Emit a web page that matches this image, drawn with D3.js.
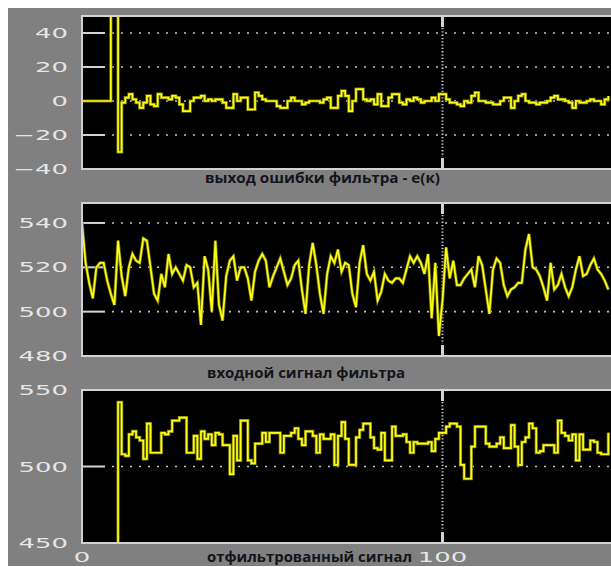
<!DOCTYPE html>
<html>
<head>
<meta charset="utf-8">
<script src="https://cdn.jsdelivr.net/npm/d3@7"></script>
<style>
  body { margin: 0; background: #ffffff; }
  svg { display: block; }
</style>
</head>
<body>
<svg id="scope"></svg>
<script>
// Sample axis
var xTicks = [0, 100];

// Tick values of each panel
var errTicks = [-40, -20, 0, 20, 40];
var inTicks = [480, 500, 520, 540];
var outTicks = [450, 500, 550];

// Panel captions
var titles = ["выход ошибки фильтра - е(к)", "входной сигнал фильтра", "отфильтрованный сигнал"];

// e(k) - filter error output (stepped)
var errorSignal = [
    0, 0, 0, 0, 0, 0, 0, 0, 200, 200,
    -30, -1, 2, 4, 1, -1, -4, -1, 3, -2,
    -3, 4, 2, 2, 1, 3, 2, -2, -6, -6,
    0, 2, 2, 3, 0, 1, 0, 1, 1, -1,
    -4, -4, 4, 0, 2, 2, -5, -5, 5, 3,
    1, 0, 0, 0, -3, -4, -4, 0, 2, 0,
    0, -2, -1, 0, 0, 0, -1, 1, 2, -4,
    -4, 3, 6, 3, -6, 0, 7, 7, 1, 0,
    1, -2, 4, -3, -3, 2, 4, 4, -1, -2,
    1, 0, 2, 1, -1, 0, 0, 2, 0, 4,
    4, 1, -1, -1, -2, -3, 0, -1, 3, 5,
    0, 0, -1, -1, -2, -2, 0, 2, 2, -4,
    0, 3, 4, 0, -1, -1, -2, -1, -1, 0,
    2, 3, 1, 1, 0, -1, -4, 0, -1, -1,
    0, 1, 0, 0, -2, 1, 3
];

// filter input signal
var inputSignal = [
    540, 522, 513, 506, 520, 522, 522, 514, 508, 503,
    532, 516, 507, 520, 526, 523, 522, 533, 532, 520,
    508, 505, 517, 511, 526, 517, 520, 517, 514, 521,
    520, 511, 513, 494, 525, 519, 500, 532, 503, 496,
    516, 523, 525, 514, 520, 520, 515, 505, 518, 523,
    526, 523, 511, 516, 520, 524, 518, 512, 515, 521,
    523, 510, 499, 521, 531, 521, 508, 499, 517, 525,
    522, 528, 518, 522, 521, 508, 502, 522, 530, 517,
    514, 518, 505, 509, 517, 514, 513, 515, 515, 513,
    519, 525, 522, 525, 522, 517, 526, 497, 522, 489,
    505, 529, 515, 523, 512, 512, 515, 517, 519, 511,
    525, 521, 510, 499, 519, 524, 522, 512, 507, 510,
    511, 513, 513, 528, 535, 520, 519, 516, 511, 505,
    522, 510, 512, 517, 511, 507, 511, 519, 525, 516,
    517, 521, 524, 519, 517, 514, 510
];

// filtered output signal (stepped)
var filteredSignal = [
    0, 0, 0, 0, 0, 0, 0, 0, 0, 0,
    542, 508, 507, 521, 523, 519, 517, 505, 528, 509,
    509, 509, 522, 521, 523, 530, 530, 532, 532, 509,
    509, 520, 505, 523, 518, 521, 514, 522, 521, 514,
    514, 495, 520, 504, 530, 530, 504, 502, 515, 515,
    522, 516, 522, 522, 522, 509, 520, 520, 522, 525,
    518, 514, 523, 523, 520, 509, 521, 518, 518, 521,
    501, 520, 529, 518, 501, 501, 519, 524, 528, 528,
    519, 512, 511, 522, 504, 504, 526, 520, 520, 521,
    516, 509, 516, 515, 515, 515, 516, 510, 518, 522,
    522, 526, 528, 528, 526, 501, 492, 492, 513, 526,
    526, 526, 515, 513, 513, 515, 519, 512, 512, 527,
    513, 501, 516, 519, 528, 525, 509, 510, 514, 514,
    514, 509, 530, 522, 520, 517, 521, 504, 521, 511,
    511, 517, 516, 509, 508, 508, 522
];

var width = 611;
var height = 567;

// Colours
var grey = "#808080";
var frameGrey = "#d2d2d2";
var dotGrey = "#c4c4c4";
var labelGrey = "#e6e6e6";
var yellow = "#ffff10";
var olive = "#77770a";

var svg = d3.select("#scope")
    .attr("width", width)
    .attr("height", height);

svg.append("rect")
    .attr("width", width)
    .attr("height", height)
    .attr("fill", "#ffffff");

svg.append("rect")
    .attr("x", 8)
    .attr("y", 8)
    .attr("width", width - 8)
    .attr("height", 558)
    .attr("fill", grey);

var left = 82;
var xScale = d3.scaleLinear()
    .domain([0, 100])
    .range([left, 442.5]);

var panels = [
    { data: errorSignal, ticks: errTicks, domain: [-40, 50], top: 16, bottom: 169, curve: d3.curveStepAfter,
      title: titles[0], titleX: 205, titleY: 183, titleW: 235 },
    { data: inputSignal, ticks: inTicks, domain: [480, 549], top: 203, bottom: 356, curve: d3.curveLinear,
      title: titles[1], titleX: 207, titleY: 378, titleW: 198 },
    { data: filteredSignal, ticks: outTicks, domain: [450, 550], top: 390, bottom: 543, curve: d3.curveStepAfter,
      title: titles[2], titleX: 207, titleY: 562, titleW: 205 }
];

var fmt = d3.format("d");

panels.forEach(function (p, i) {
    var yScale = d3.scaleLinear()
        .domain(p.domain)
        .range([p.bottom, p.top]);

    var g = svg.append("g");

    // Black screen
    g.append("rect")
        .attr("x", left)
        .attr("y", p.top)
        .attr("width", width)
        .attr("height", p.bottom - p.top)
        .attr("fill", "#000000")
        .attr("stroke", frameGrey)
        .attr("stroke-width", 2);

    // Interior ticks: short solid mark + dotted grid
    var inner = p.ticks.filter(function (t) { return yScale(t) > p.top + 3 && yScale(t) < p.bottom - 3; });

    g.selectAll(".hdot")
        .data(inner)
        .enter()
        .append("line")
        .attr("x1", 112)
        .attr("x2", width)
        .attr("y1", function (d) { return yScale(d); })
        .attr("y2", function (d) { return yScale(d); })
        .attr("stroke", dotGrey)
        .attr("stroke-width", 1.6)
        .attr("stroke-dasharray", "2,7");

    g.selectAll(".hmark")
        .data(inner)
        .enter()
        .append("line")
        .attr("x1", left)
        .attr("x2", 105)
        .attr("y1", function (d) { return yScale(d); })
        .attr("y2", function (d) { return yScale(d); })
        .attr("stroke", frameGrey)
        .attr("stroke-width", 2);

    // Vertical grid at interior x ticks
    var innerX = xTicks.filter(function (t) { return t > 0; });
    innerX.forEach(function (t) {
        g.append("line")
            .attr("x1", xScale(t)).attr("x2", xScale(t))
            .attr("y1", p.top + 12).attr("y2", p.bottom - 12)
            .attr("stroke", dotGrey)
            .attr("stroke-width", 2)
            .attr("stroke-dasharray", "1.3,2");
        g.append("line")
            .attr("x1", xScale(t)).attr("x2", xScale(t))
            .attr("y1", p.top).attr("y2", p.top + 11)
            .attr("stroke", frameGrey)
            .attr("stroke-width", 3);
        g.append("line")
            .attr("x1", xScale(t)).attr("x2", xScale(t))
            .attr("y1", p.bottom - 11).attr("y2", p.bottom)
            .attr("stroke", frameGrey)
            .attr("stroke-width", 3);
    });

    // Signal
    svg.append("clipPath")
        .attr("id", "clip" + i)
        .append("rect")
        .attr("x", left + 1)
        .attr("y", p.top + 1)
        .attr("width", width)
        .attr("height", p.bottom - p.top - 2);

    var line = d3.line()
        .x(function (d, k) { return xScale(k); })
        .y(function (d) { return yScale(d); })
        .curve(p.curve);

    var sg = g.append("g").attr("clip-path", "url(#clip" + i + ")");
    sg.append("path")
        .attr("d", line(p.data))
        .attr("fill", "none")
        .attr("stroke", olive)
        .attr("stroke-width", 3.2)
        .attr("stroke-linejoin", "miter");
    sg.append("path")
        .attr("d", line(p.data))
        .attr("fill", "none")
        .attr("stroke", yellow)
        .attr("stroke-width", 1.7)
        .attr("stroke-linejoin", "miter");

    // Y labels (wide scope font)
    g.selectAll(".ylab")
        .data(p.ticks)
        .enter()
        .append("text")
        .attr("transform", function (d) { return "translate(68," + yScale(d) + ") scale(1.85,1)"; })
        .attr("dy", "0.36em")
        .attr("text-anchor", "end")
        .style("font-family", "DejaVu Sans")
        .style("font-size", "14px")
        .attr("fill", labelGrey)
        .text(function (d) { return fmt(d); });

    // Caption
    svg.append("text")
        .attr("x", p.titleX)
        .attr("y", p.titleY)
        .attr("textLength", p.titleW)
        .attr("lengthAdjust", "spacingAndGlyphs")
        .style("font-family", "Open Sans")
        .style("font-weight", "bold")
        .style("font-size", "14px")
        .attr("fill", "#14141c")
        .text(p.title);
});

// X labels under last panel
svg.selectAll(".xlab")
    .data(xTicks)
    .enter()
    .append("text")
    .attr("transform", function (d) { return "translate(" + xScale(d) + ",557) scale(1.85,1)"; })
    .attr("dy", "0.36em")
    .attr("text-anchor", "middle")
    .style("font-family", "DejaVu Sans")
    .style("font-size", "14px")
    .attr("fill", labelGrey)
    .text(function (d) { return fmt(d); });
</script>
</body>
</html>
